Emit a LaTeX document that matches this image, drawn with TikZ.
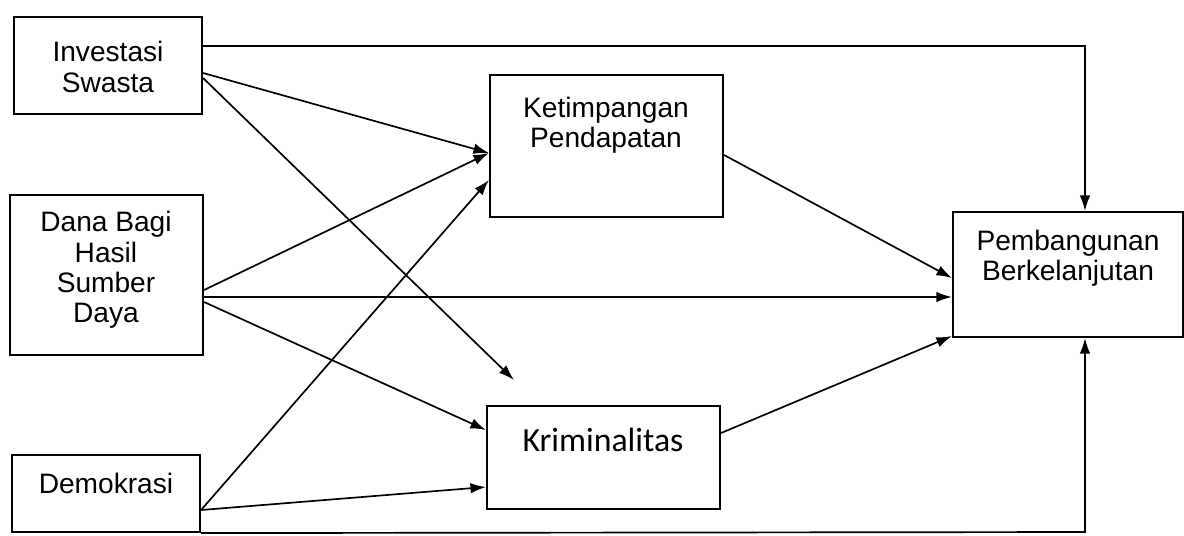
\documentclass[tikz,border=0pt]{standalone}
\usepackage{fontspec}
\setmainfont{Liberation Sans}
\newfontfamily\krifont{Carlito}
\usetikzlibrary{arrows.meta,positioning,calc}

\begin{document}
\begin{tikzpicture}[
    x=0.025cm, y=-0.025cm,
    box/.style={rectangle, draw, line width=1.5pt, inner sep=0pt},
    txt/.style={align=center, font=\fontsize{20}{21.5}\selectfont},
    arr/.style={-{Latex[length=11pt,width=7.5pt]}, line width=1.2pt},
]
\useasboundingbox (0,0) rectangle (1184,535);

%% Variabel bebas (kiri)
\node[box, minimum width=4.7cm,  minimum height=2.425cm] (inv) at (108,65.5)  {};
\node[box, minimum width=4.825cm, minimum height=4cm]    (dbh) at (106.5,275) {};
\node[box, minimum width=4.7cm,  minimum height=1.925cm] (dem) at (106,493.5) {};
\node[txt] (inv-t) at (108,67)  {Investasi\\Swasta};
\node[txt] (dbh-t) at (106,270) {Dana Bagi\\Hasil\\Sumber\\Daya};
\node[txt] (dem-t) at (106,483) {Demokrasi};

%% Variabel antara (tengah)
\node[box, minimum width=5.825cm, minimum height=3.55cm]  (ket) at (606.5,146)   {};
\node[box, minimum width=5.825cm, minimum height=2.575cm] (kri) at (603.5,457.5) {};
\node[txt] (ket-t) at (606,125) {Ketimpangan\\Pendapatan};
\node[align=center, font=\krifont\fontsize{24}{26}\selectfont] (kri-t) at (603,440) {Kriminalitas};

%% Variabel terikat (kanan)
\node[box, minimum width=5.75cm, minimum height=3.125cm] (pem) at (1068,274.5) {};
\node[txt] (pem-t) at (1068,258) {Pembangunan\\Berkelanjutan};

%% Jalur langsung
\coordinate (tr) at (1085,46);
\coordinate (br) at (1085,532);
\coordinate (kri-in) at ($(kri.north west)+(28,-25)$);
\draw[arr] ($(inv.east)+(0,-19.5)$) -- (tr) -- (tr |- pem.north);
\draw[arr] (dem.south east) -- (br) -- (br |- pem.south);

\draw[arr] ($(inv.east)+(0,7.5)$)  -- ($(ket.west)+(0,7)$);
\draw[arr] ($(inv.east)+(0,12.5)$) -- (kri-in);
\draw[arr] ($(dbh.east)+(0,15)$)   -- ($(ket.west)+(0,7)$);
\draw[arr] ($(dbh.east)+(0,22)$)   -- ($(pem.west)+(0,22.5)$);
\draw[arr] ($(dbh.east)+(0,27)$)   -- ($(kri.west)+(0,-27.5)$);
\draw[arr] ($(dem.east)+(0,16.5)$) -- ($(ket.west)+(0,34)$);
\draw[arr] ($(dem.east)+(0,16.5)$) -- ($(kri.west)+(0,29.5)$);

%% Jalur ke pembangunan berkelanjutan
\draw[arr] ($(ket.east)+(0,9)$)     -- ($(pem.west)+(0,3.5)$);
\draw[arr] ($(kri.east)+(0,-24.5)$) -- ($(pem.south west)+(0,-2)$);

\end{tikzpicture}
\end{document}
